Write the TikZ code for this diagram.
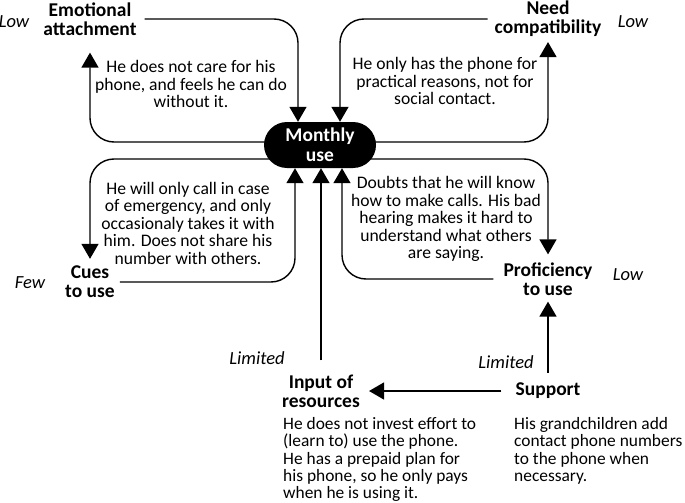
\documentclass[tikz,border=0pt]{standalone}
\usepackage{fontspec}
\setmainfont{Carlito}
\usetikzlibrary{arrows.meta,backgrounds}
\begin{document}
\begin{tikzpicture}[x=1pt,y=1pt,
  lbl/.style={font=\fontsize{19.5}{19}\selectfont\bfseries, align=center, inner sep=0pt},
  lvl/.style={font=\fontsize{18.5}{20}\selectfont\itshape, inner sep=0pt},
  note/.style={font=\fontsize{17.6}{17.5}\selectfont, align=center, inner sep=0pt},
  side/.style={font=\fontsize{17.4}{17.4}\selectfont, align=left, inner sep=0pt, anchor=north west},
  pill/.style={fill=black, text=white, rounded corners=23pt, minimum width=112pt, minimum height=46pt,
    inner sep=0pt, align=center, font=\fontsize{19.5}{20}\selectfont\bfseries},
  flow/.style={line width=1.4pt, rounded corners=24pt, -{Triangle[length=15pt,width=17pt]}}]
\useasboundingbox (0,0) rectangle (685,-503);
\node[pill] (use) at (320,-145) {Monthly\\use};
\node[lbl] (emo) at (90,-19) {Emotional\\attachment};
\node[lvl] (lowemo) at (14,-22) {Low};
\node[lbl] (need) at (548,-19) {Need\\compatibility};
\node[lvl] (lowneed) at (633,-22) {Low};
\node[lbl] (cues) at (90,-282) {Cues\\to use};
\node[lvl] (few) at (30,-283) {Few};
\node[lbl] (prof) at (548,-279) {Proficiency\\to use};
\node[lvl] (lowprof) at (628,-275) {Low};
\node[lbl] (input) at (321,-391) {Input of\\resources};
\node[lvl] (liminput) at (257,-358) {Limited};
\node[lbl] (support) at (548,-391) {Support};
\node[lvl] (limsupport) at (506,-362) {Limited};
\node[note] (noteemo) at (191,-84) {He does not care for his\\phone, and feels he can do\\without it.};
\node[note] (noteneed) at (445,-81) {He only has the phone for\\practical reasons, not for\\social contact.};
\node[note] (notecues) at (188,-223) {He will only call in case\\of emergency, and only\\occasionaly takes it with\\him. Does not share his\\number with others.};
\node[note] (noteprof) at (446,-219) {Doubts that he will know\\how to make calls. His bad\\hearing makes it hard to\\understand what others\\are saying.};
\node[side] (noteinput) at (283,-417) {He does not invest effort to\\(learn to) use the phone.\\He has a prepaid plan for\\his phone, so he only pays\\when he is using it.};
\node[side] (notesupport) at (514,-417) {His grandchildren add\\contact phone numbers\\to the phone when\\necessary.};
\begin{scope}[on background layer]
\draw[flow] ([yshift=3pt]use.center) -| ([yshift=-17pt]emo.south);
\draw[flow] ([xshift=8pt]emo.east) -| ([xshift=-22pt]use.north);
\draw[flow] ([yshift=3pt]use.center) -| ([yshift=-5pt]need.south);
\draw[flow] ([xshift=-7pt]need.west) -| ([xshift=20pt]use.north);
\draw[flow] ([yshift=-14pt]use.center) -| ([yshift=7pt]cues.north);
\draw[flow] ([xshift=5pt]cues.east) -| ([xshift=-25pt]use.south);
\draw[flow] ([yshift=-14pt]use.center) -| ([yshift=8pt]prof.north);
\draw[flow] ([xshift=-10pt]prof.west) -| ([xshift=22pt]use.south);
\draw[flow] ([yshift=14pt]input.north) -- (input.north |- use.south);
\draw[flow] ([xshift=-14pt]support.west) -- ([xshift=9pt]input.east);
\draw[flow] ([yshift=10pt]support.north) -- ([yshift=-6pt]prof.south);
\end{scope}
\end{tikzpicture}
\end{document}
